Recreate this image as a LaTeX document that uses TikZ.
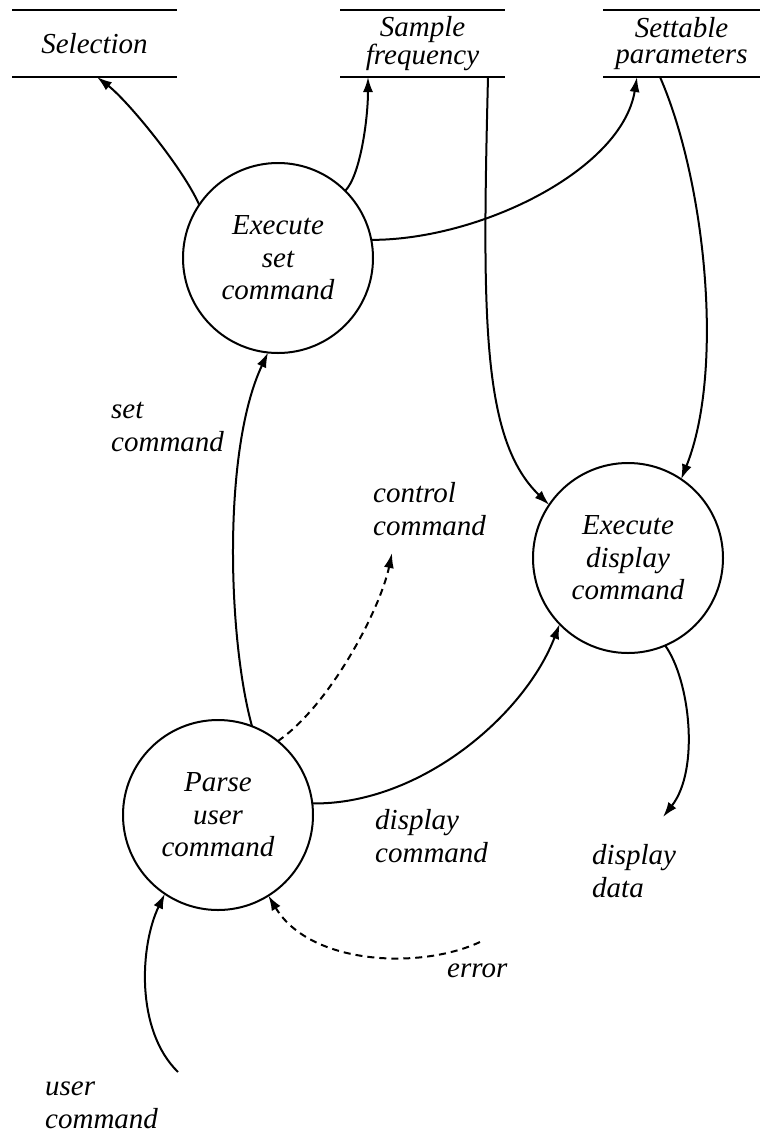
\documentclass[tikz,border=0pt]{standalone}
\usepackage{fontspec}
\setmainfont{Liberation Serif}
\usetikzlibrary{arrows.meta,calc}
\begin{document}
\begin{tikzpicture}[x=1pt,y=-1pt,
  every node/.style={font=\fontsize{29}{32.5}\selectfont\itshape},
  process/.style={circle, draw, line width=2pt, minimum size=190pt,
    inner sep=0pt, outer sep=0pt, align=center},
  store/.style={minimum width=165pt, minimum height=67pt, inner sep=0pt,
    outer sep=0pt, align=center, font=\fontsize{29}{26}\selectfont\itshape},
  storeline/.style={line width=2.4pt},
  flow/.style={line width=2pt, -{Latex[length=15pt,width=10pt]}},
  ctrl/.style={flow, dash pattern=on 7pt off 5pt},
  lbl/.style={anchor=base west, align=left, inner sep=0pt}
]
\useasboundingbox (0,0) rectangle (760,1133);

% data stores: text between two horizontal lines
\node[store] (sel) at (94.5,43.5) {Selection};
\node[store] (smp) at (422.5,43.5) {Sample\\frequency};
\node[store, minimum width=157pt] (par) at (681.5,43.5) {Settable\\parameters};
\foreach \s in {sel,smp,par}
  \draw[storeline] (\s.north west) -- (\s.north east)
                   (\s.south west) -- (\s.south east);

% processes
\node[process] (es) at (278,258) {Execute\\set\\command};
\node[process] (ed) at (628,558) {Execute\\display\\command};
\node[process] (pu) at (218,815) {Parse\\user\\command};

% flow labels (anchored at the baseline of their last line)
\node[lbl] (lset) at (111,451) {set\\command};
\node[lbl] (lctl) at (373,535) {control\\command};
\node[lbl] (ldc) at (375,862) {display\\command};
\node[lbl] (ldd) at (592,897) {display\\data};
\node[lbl] (lerr) at (447,977) {error};
\node[lbl] (luc) at (45,1128) {user\\command};

% free ends of flows and attachment points on the stores
\coordinate (selIn) at ($(sel.south)+(2.5,0)$);
\coordinate (smpIn) at ($(smp.south)+(-54.5,0)$);
\coordinate (smpOut) at ($(smp.south)+(65.5,0)$);
\coordinate (parIn) at ($(par.south)+(-44.5,0)$);
\coordinate (parOut) at ($(par.south)+(-21.5,0)$);
\coordinate (ctlEnd) at (392,553);
\coordinate (ddEnd) at (663,817);
\coordinate (ucStart) at (178,1072);
\coordinate (errStart) at (480,942);

% flows out of "Execute set command"
\draw[flow] (es.146) .. controls (183,168) and (128,101) .. (selIn);
\draw[flow] (es.45) .. controls (360,176) and (368,120) .. (smpIn);
\draw[flow] (es.11) .. controls (480,240) and (622,170) .. (parIn);

% stores read by "Execute display command"
\draw[flow] (smpOut) .. controls (482,320) and (482,440) .. (ed.146);
\draw[flow] (parOut) .. controls (705,180) and (725,370) .. (ed.56);

% flows out of "Parse user command"
\draw[flow] (pu.69) .. controls (228,640) and (222,450) .. (es.-96);
\draw[ctrl] (pu.51) .. controls (330,705) and (380,610) .. (ctlEnd);
\draw[flow] (pu.7) .. controls (420,805) and (525,715) .. (ed.-136);

% output and inputs
\draw[flow] (ed.-67) .. controls (690,680) and (700,770) .. (ddEnd);
\draw[flow] (ucStart) .. controls (135,1030) and (140,945) .. (pu.-124);
\draw[ctrl] (errStart) .. controls (420,970) and (310,965) .. (pu.-58);
\end{tikzpicture}
\end{document}
